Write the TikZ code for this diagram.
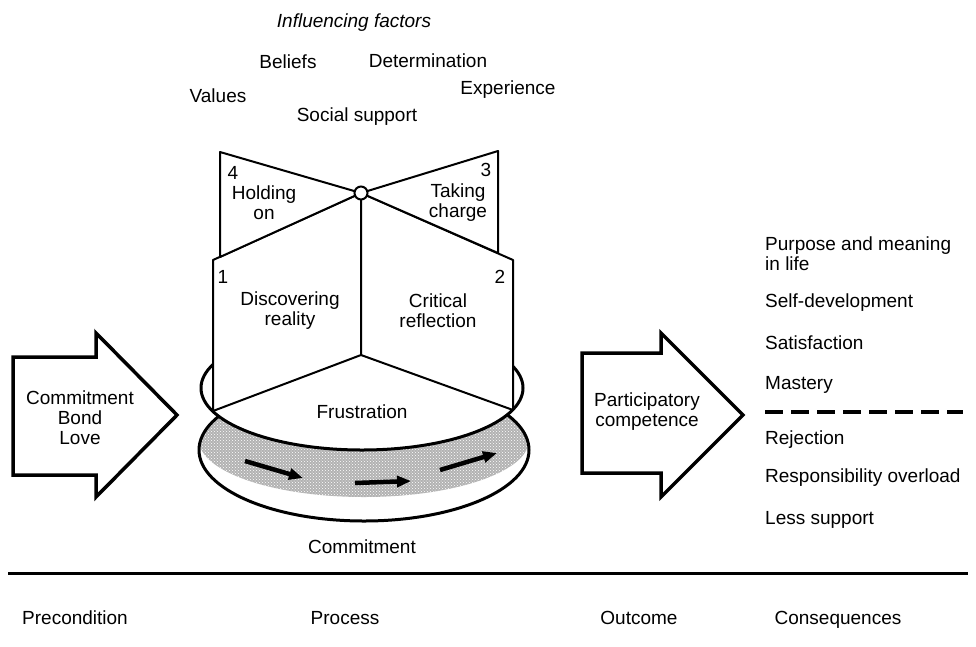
\documentclass[tikz,border=0pt]{standalone}
\usepackage{fontspec}
\setmainfont{Liberation Sans}
\usetikzlibrary{patterns,arrows.meta}
\begin{document}
\begin{tikzpicture}[x=1pt,y=-1pt,
 lbl/.style={font=\fontsize{19}{20}\selectfont, inner sep=0pt, align=center},
 lft/.style={lbl, anchor=west, align=left},
 axislbl/.style={lbl, anchor=base},
 edge/.style={line width=2pt, line join=round},
 rim/.style={line width=3pt},
 bigarrow/.style={line width=3.5pt, line join=miter, fill=white},
 flow/.style={line width=4.5pt, -{Triangle[length=14pt,width=11pt]}}]
\useasboundingbox (0,0) rectangle (976,646);

% ---- influencing factors
\node[lbl, font=\fontsize{19}{20}\selectfont\itshape] (inf) at (354,23) {Influencing factors};
\node[lbl] (bel) at (288,62) {Beliefs};
\node[lbl] (det) at (428,61) {Determination};
\node[lbl] (val) at (218,96) {Values};
\node[lbl] (exp) at (508,90) {Experience};
\node[lbl] (soc) at (357,117) {Social support};

% ---- base disk with shaded rotating band
\begin{scope}
 \clip (364,450) ellipse [x radius=165, y radius=71];
 \path[fill=gray!60] (190,300) -- (190,440) -- (199,440)
   arc[start angle=180, end angle=0, x radius=165, y radius=57] -- (540,440) -- (540,300) -- cycle;
 \path[pattern=crosshatch dots, pattern color=white] (190,300) -- (190,440) -- (199,440)
   arc[start angle=180, end angle=0, x radius=165, y radius=57] -- (540,440) -- (540,300) -- cycle;
\end{scope}
\coordinate (f1a) at (245,461); \coordinate (f1b) at (303,478);
\coordinate (f2a) at (355,483); \coordinate (f2b) at (411,481);
\coordinate (f3a) at (440,470); \coordinate (f3b) at (497,453);
\draw[flow] (f1a) -- (f1b);
\draw[flow] (f2a) -- (f2b);
\draw[flow] (f3a) -- (f3b);
\draw[rim] (364,450) ellipse [x radius=165, y radius=71];
\draw[rim, fill=white] (362,388) ellipse [x radius=161, y radius=62];

% ---- panels
\coordinate (P) at (361,193);
\coordinate (B) at (361,355);
\draw[edge, fill=white] (213,260) -- (P) -- (B) -- (213,411) -- cycle;
\draw[edge, fill=white] (513,260) -- (P) -- (B) -- (513,410) -- cycle;
\draw[edge, fill=white] (220,152) -- (P) -- (220,257) -- cycle;
\draw[edge, fill=white] (498,151) -- (P) -- (498,253) -- cycle;
\node[circle, draw, line width=2pt, fill=white, minimum size=13pt, inner sep=0pt] (pivot) at (P) {};

\node[lbl] (n4) at (233,173) {4};
\node[lbl] (hold) at (264,203) {Holding\\on};
\node[lbl] (n3) at (486,170) {3};
\node[lbl] (take) at (458,203) {Taking\\charge};
\node[lbl] (n1) at (223,277) {1};
\node[lbl] (disc) at (290,311) {Discovering\\reality};
\node[lbl] (n2) at (500,277) {2};
\node[lbl] (crit) at (438,311) {Critical\\reflection};
\node[lbl] (frus) at (362,412) {Frustration};
\node[lbl] (comm) at (362,547) {Commitment};

% ---- precondition arrow
\draw[bigarrow] (13,357) -- (96,357) -- (96,333) -- (177,415) -- (96,497) -- (96,475) -- (13,475) -- cycle;
\node[lbl] (pre) at (80,418) {Commitment\\Bond\\Love};

% ---- outcome arrow
\draw[bigarrow] (582,353) -- (661,353) -- (661,333) -- (743,415) -- (661,497) -- (661,473) -- (582,473) -- cycle;
\node[lbl] (out) at (647,412) {Participatory\\competence};

% ---- consequences
\node[lft] (c1) at (765,254) {Purpose and meaning\\in life};
\node[lft] (c2) at (765,303) {Self-development};
\node[lft] (c3) at (765,343) {Satisfaction};
\node[lft] (c4) at (765,385) {Mastery};
\coordinate (dl) at (765,412); \coordinate (dr) at (963,412);
\draw[line width=3.5pt, dash pattern=on 18pt off 8pt] (dl) -- (dr);
\node[lft] (c5) at (765,440) {Rejection};
\node[lft] (c6) at (765,478) {Responsibility overload};
\node[lft] (c7) at (765,520) {Less support};

% ---- bottom axis
\coordinate (axl) at (8,573); \coordinate (axr) at (968,573);
\draw[line width=3pt] (axl) -- (axr);
\node[axislbl] (l1) at (75,624) {Precondition};
\node[axislbl] (l2) at (345,624) {Process};
\node[axislbl] (l3) at (639,624) {Outcome};
\node[axislbl] (l4) at (838,624) {Consequences};
\end{tikzpicture}
\end{document}
